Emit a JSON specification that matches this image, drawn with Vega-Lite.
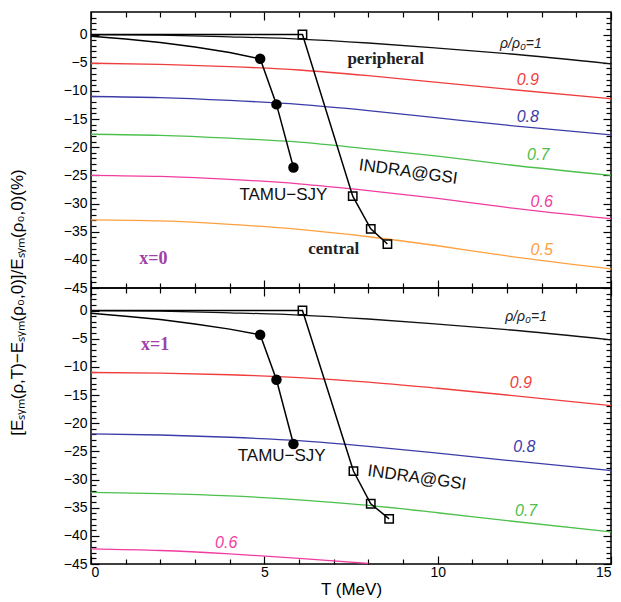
{
  "$schema": "https://vega.github.io/schema/vega-lite/v6.json",
  "background": "white",
  "padding": {"left": 7, "top": 10, "right": 6, "bottom": 2},
  "spacing": 0,
  "bounds": "flush",
  "config": {
    "view": {"stroke": "black", "strokeWidth": 1.5},
    "axis": {"labelFont": "Liberation Sans", "labelFontSize": 14, "labelColor": "black", "domainColor": "black", "domainWidth": 1.5, "tickColor": "black", "tickWidth": 1.2, "grid": false, "titleFont": "Liberation Sans", "titleFontWeight": "normal", "titleColor": "black"},
    "concat": {"spacing": 0}
  },
  "datasets": {
    "curves": [
      {"p": "x0", "rho": "1", "T": 0, "v": 0}, {"p": "x0", "rho": "1", "T": 2, "v": -0.1}, {"p": "x0", "rho": "1", "T": 4, "v": -0.4}, {"p": "x0", "rho": "1", "T": 6, "v": -0.8}, {"p": "x0", "rho": "1", "T": 8, "v": -1.5}, {"p": "x0", "rho": "1", "T": 10, "v": -2.4}, {"p": "x0", "rho": "1", "T": 12, "v": -3.4}, {"p": "x0", "rho": "1", "T": 15, "v": -5.2},
      {"p": "x0", "rho": "0.9", "T": 0, "v": -5.1}, {"p": "x0", "rho": "0.9", "T": 2, "v": -5.3}, {"p": "x0", "rho": "0.9", "T": 4, "v": -5.7}, {"p": "x0", "rho": "0.9", "T": 6, "v": -6.3}, {"p": "x0", "rho": "0.9", "T": 8, "v": -7.3}, {"p": "x0", "rho": "0.9", "T": 10, "v": -8.5}, {"p": "x0", "rho": "0.9", "T": 12, "v": -9.7}, {"p": "x0", "rho": "0.9", "T": 15, "v": -11.4},
      {"p": "x0", "rho": "0.8", "T": 0, "v": -11.0}, {"p": "x0", "rho": "0.8", "T": 2, "v": -11.2}, {"p": "x0", "rho": "0.8", "T": 4, "v": -11.7}, {"p": "x0", "rho": "0.8", "T": 6, "v": -12.4}, {"p": "x0", "rho": "0.8", "T": 8, "v": -13.5}, {"p": "x0", "rho": "0.8", "T": 10, "v": -14.8}, {"p": "x0", "rho": "0.8", "T": 12, "v": -16.1}, {"p": "x0", "rho": "0.8", "T": 15, "v": -17.8},
      {"p": "x0", "rho": "0.7", "T": 0, "v": -17.7}, {"p": "x0", "rho": "0.7", "T": 2, "v": -17.9}, {"p": "x0", "rho": "0.7", "T": 4, "v": -18.4}, {"p": "x0", "rho": "0.7", "T": 6, "v": -19.1}, {"p": "x0", "rho": "0.7", "T": 8, "v": -20.3}, {"p": "x0", "rho": "0.7", "T": 10, "v": -21.6}, {"p": "x0", "rho": "0.7", "T": 12, "v": -23.1}, {"p": "x0", "rho": "0.7", "T": 15, "v": -25.0},
      {"p": "x0", "rho": "0.6", "T": 0, "v": -25.0}, {"p": "x0", "rho": "0.6", "T": 2, "v": -25.2}, {"p": "x0", "rho": "0.6", "T": 4, "v": -25.7}, {"p": "x0", "rho": "0.6", "T": 6, "v": -26.5}, {"p": "x0", "rho": "0.6", "T": 8, "v": -27.7}, {"p": "x0", "rho": "0.6", "T": 10, "v": -29.1}, {"p": "x0", "rho": "0.6", "T": 12, "v": -30.7}, {"p": "x0", "rho": "0.6", "T": 15, "v": -32.7},
      {"p": "x0", "rho": "0.5", "T": 0, "v": -32.9}, {"p": "x0", "rho": "0.5", "T": 2, "v": -33.1}, {"p": "x0", "rho": "0.5", "T": 4, "v": -33.7}, {"p": "x0", "rho": "0.5", "T": 6, "v": -34.6}, {"p": "x0", "rho": "0.5", "T": 8, "v": -35.9}, {"p": "x0", "rho": "0.5", "T": 10, "v": -37.5}, {"p": "x0", "rho": "0.5", "T": 12, "v": -39.3}, {"p": "x0", "rho": "0.5", "T": 15, "v": -41.6},
      {"p": "x1", "rho": "1", "T": 0, "v": 0}, {"p": "x1", "rho": "1", "T": 2, "v": -0.1}, {"p": "x1", "rho": "1", "T": 4, "v": -0.4}, {"p": "x1", "rho": "1", "T": 6, "v": -0.8}, {"p": "x1", "rho": "1", "T": 8, "v": -1.5}, {"p": "x1", "rho": "1", "T": 10, "v": -2.4}, {"p": "x1", "rho": "1", "T": 12, "v": -3.4}, {"p": "x1", "rho": "1", "T": 15, "v": -5.2},
      {"p": "x1", "rho": "0.9", "T": 0, "v": -11.0}, {"p": "x1", "rho": "0.9", "T": 2, "v": -11.1}, {"p": "x1", "rho": "0.9", "T": 4, "v": -11.4}, {"p": "x1", "rho": "0.9", "T": 6, "v": -11.9}, {"p": "x1", "rho": "0.9", "T": 8, "v": -12.7}, {"p": "x1", "rho": "0.9", "T": 10, "v": -13.8}, {"p": "x1", "rho": "0.9", "T": 12, "v": -15.0}, {"p": "x1", "rho": "0.9", "T": 15, "v": -16.9},
      {"p": "x1", "rho": "0.8", "T": 0, "v": -21.9}, {"p": "x1", "rho": "0.8", "T": 2, "v": -22.1}, {"p": "x1", "rho": "0.8", "T": 4, "v": -22.5}, {"p": "x1", "rho": "0.8", "T": 6, "v": -23.1}, {"p": "x1", "rho": "0.8", "T": 8, "v": -24.1}, {"p": "x1", "rho": "0.8", "T": 10, "v": -25.3}, {"p": "x1", "rho": "0.8", "T": 12, "v": -26.6}, {"p": "x1", "rho": "0.8", "T": 15, "v": -28.4},
      {"p": "x1", "rho": "0.7", "T": 0, "v": -32.3}, {"p": "x1", "rho": "0.7", "T": 2, "v": -32.5}, {"p": "x1", "rho": "0.7", "T": 4, "v": -32.9}, {"p": "x1", "rho": "0.7", "T": 6, "v": -33.6}, {"p": "x1", "rho": "0.7", "T": 8, "v": -34.6}, {"p": "x1", "rho": "0.7", "T": 10, "v": -35.9}, {"p": "x1", "rho": "0.7", "T": 12, "v": -37.3}, {"p": "x1", "rho": "0.7", "T": 15, "v": -39.3},
      {"p": "x1", "rho": "0.6", "T": 0, "v": -42.3}, {"p": "x1", "rho": "0.6", "T": 2, "v": -42.6}, {"p": "x1", "rho": "0.6", "T": 4, "v": -43.2}, {"p": "x1", "rho": "0.6", "T": 6, "v": -44.0}, {"p": "x1", "rho": "0.6", "T": 8, "v": -44.9}
    ],
    "tamu": [
      {"p": "x0", "T": 0, "v": -0.3, "m": false}, {"p": "x0", "T": 1, "v": -0.8, "m": false}, {"p": "x0", "T": 2, "v": -1.4, "m": false}, {"p": "x0", "T": 3, "v": -2.2, "m": false}, {"p": "x0", "T": 4, "v": -3.2, "m": false},
      {"p": "x0", "T": 4.88, "v": -4.3, "m": true}, {"p": "x0", "T": 5.35, "v": -12.4, "m": true}, {"p": "x0", "T": 5.84, "v": -23.6, "m": true},
      {"p": "x1", "T": 0, "v": -0.5, "m": false}, {"p": "x1", "T": 1, "v": -1.0, "m": false}, {"p": "x1", "T": 2, "v": -1.6, "m": false}, {"p": "x1", "T": 3, "v": -2.4, "m": false}, {"p": "x1", "T": 4, "v": -3.3, "m": false},
      {"p": "x1", "T": 4.88, "v": -4.3, "m": true}, {"p": "x1", "T": 5.35, "v": -12.3, "m": true}, {"p": "x1", "T": 5.84, "v": -23.7, "m": true}
    ],
    "indra": [
      {"p": "x0", "T": 0, "v": 0, "m": false}, {"p": "x0", "T": 6.1, "v": 0, "m": true}, {"p": "x0", "T": 7.55, "v": -28.7, "m": true}, {"p": "x0", "T": 8.07, "v": -34.5, "m": true}, {"p": "x0", "T": 8.55, "v": -37.2, "m": true},
      {"p": "x1", "T": 0, "v": 0, "m": false}, {"p": "x1", "T": 6.1, "v": 0, "m": true}, {"p": "x1", "T": 7.57, "v": -28.5, "m": true}, {"p": "x1", "T": 8.07, "v": -34.3, "m": true}, {"p": "x1", "T": 8.6, "v": -37.0, "m": true}
    ],
    "labels": [
      {"p": "x0", "k": "rho1", "text": "ρ/ρ₀=1", "rho": "1", "T": 12.4, "v": -1.6},
      {"p": "x0", "k": "rho", "text": "0.9", "rho": "0.9", "T": 12.6, "v": -8.0},
      {"p": "x0", "k": "rho", "text": "0.8", "rho": "0.8", "T": 12.6, "v": -14.6},
      {"p": "x0", "k": "rho", "text": "0.7", "rho": "0.7", "T": 12.9, "v": -21.3},
      {"p": "x0", "k": "rho", "text": "0.6", "rho": "0.6", "T": 13.0, "v": -29.7},
      {"p": "x0", "k": "rho", "text": "0.5", "rho": "0.5", "T": 13.0, "v": -38.3},
      {"p": "x0", "k": "ser", "text": "peripheral", "rho": "1", "T": 8.5, "v": -4.3},
      {"p": "x0", "k": "ser", "text": "central", "rho": "1", "T": 7.0, "v": -38.1},
      {"p": "x0", "k": "xlab", "text": "x=0", "rho": "1", "T": 1.8, "v": -39.9},
      {"p": "x0", "k": "exp", "text": "TAMU−SJY", "rho": "1", "T": 5.55, "v": -28.5},
      {"p": "x0", "k": "indra", "text": "INDRA@GSI", "rho": "1", "T": 9.15, "v": -24.4},
      {"p": "x1", "k": "rho1", "text": "ρ/ρ₀=1", "rho": "1", "T": 12.55, "v": -1.1},
      {"p": "x1", "k": "rho", "text": "0.9", "rho": "0.9", "T": 12.4, "v": -12.8},
      {"p": "x1", "k": "rho", "text": "0.8", "rho": "0.8", "T": 12.5, "v": -24.2},
      {"p": "x1", "k": "rho", "text": "0.7", "rho": "0.7", "T": 12.55, "v": -35.6},
      {"p": "x1", "k": "rho", "text": "0.6", "rho": "0.6", "T": 3.9, "v": -41.3},
      {"p": "x1", "k": "xlab", "text": "x=1", "rho": "1", "T": 1.85, "v": -6.2},
      {"p": "x1", "k": "exp", "text": "TAMU−SJY", "rho": "1", "T": 5.5, "v": -25.8},
      {"p": "x1", "k": "indra", "text": "INDRA@GSI", "rho": "1", "T": 9.4, "v": -29.7}
    ]
  },
  "vconcat": [
    {
      "width": 520, "height": 276,
      "resolve": {"axis": {"x": "independent", "y": "independent"}},
      "layer": [
        {
          "data": {"name": "curves"},
          "transform": [{"filter": "datum.p === 'x0'"}],
          "mark": {"type": "line", "strokeWidth": 1.3, "clip": true, "interpolate": "monotone"},
          "encoding": {
            "x": {"field": "T", "type": "quantitative", "scale": {"domain": [0, 15], "nice": false},
              "axis": {"orient": "bottom", "values": [0,1,2,3,4,5,6,7,8,9,10,11,12,13,14,15], "labels": false, "title": null, "domain": false,
                "tickSize": {"condition": {"test": "datum.value % 5 === 0", "value": -8}, "value": -5}}},
            "y": {"field": "v", "type": "quantitative", "scale": {"domain": [-45, 4], "nice": false, "zero": false},
              "axis": {"orient": "left", "values": [-45,-44,-43,-42,-41,-40,-39,-38,-37,-36,-35,-34,-33,-32,-31,-30,-29,-28,-27,-26,-25,-24,-23,-22,-21,-20,-19,-18,-17,-16,-15,-14,-13,-12,-11,-10,-9,-8,-7,-6,-5,-4,-3,-2,-1,0,1,2,3],
                "labelExpr": "datum.value % 5 === 0 ? datum.label : ''", "labelPadding": 12, "domain": false,
                "tickSize": {"condition": {"test": "datum.value % 5 === 0", "value": -8}, "value": -5},
                "title": "[Eₛᵧₘ(ρ,T)−Eₛᵧₘ(ρ₀,0)]/Eₛᵧₘ(ρ₀,0)(%)", "titleFontSize": 17, "titleAngle": -90, "titleX": -65, "titleY": 290, "titleBaseline": "bottom", "titleAlign": "center"}},
            "color": {"field": "rho", "type": "nominal", "scale": {"domain": ["1", "0.9", "0.8", "0.7", "0.6", "0.5"], "range": ["#111111", "#f03c3c", "#3c3ca8", "#4cc04c", "#f03ca0", "#ffa040"]}, "legend": null}
          }
        },
        {
          "data": {"name": "tamu"},
          "transform": [{"filter": "datum.p === 'x0'"}],
          "mark": {"type": "line", "strokeWidth": 1.5, "color": "black"},
          "encoding": {
            "x": {"field": "T", "type": "quantitative", "scale": {"domain": [0, 15], "nice": false},
              "axis": {"orient": "top", "values": [0,1,2,3,4,5,6,7,8,9,10,11,12,13,14,15], "labels": false, "title": null, "domain": false,
                "tickSize": {"condition": {"test": "datum.value % 5 === 0", "value": -8}, "value": -5}}},
            "y": {"field": "v", "type": "quantitative", "scale": {"domain": [-45, 4], "nice": false, "zero": false},
              "axis": {"orient": "right", "values": [-45,-44,-43,-42,-41,-40,-39,-38,-37,-36,-35,-34,-33,-32,-31,-30,-29,-28,-27,-26,-25,-24,-23,-22,-21,-20,-19,-18,-17,-16,-15,-14,-13,-12,-11,-10,-9,-8,-7,-6,-5,-4,-3,-2,-1,0,1,2,3],
                "labels": false, "title": null, "domain": false,
                "tickSize": {"condition": {"test": "datum.value % 5 === 0", "value": -8}, "value": -5}}}
          }
        },
        {
          "data": {"name": "indra"},
          "transform": [{"filter": "datum.p === 'x0'"}],
          "mark": {"type": "line", "strokeWidth": 1.5, "color": "black"},
          "encoding": {
            "x": {"field": "T", "type": "quantitative", "axis": null},
            "y": {"field": "v", "type": "quantitative", "axis": null}
          }
        },
        {
          "data": {"name": "tamu"},
          "transform": [{"filter": "datum.p === 'x0' && datum.m"}],
          "mark": {"type": "point", "shape": "circle", "filled": true, "size": 110, "color": "black", "opacity": 1},
          "encoding": {
            "x": {"field": "T", "type": "quantitative", "axis": null},
            "y": {"field": "v", "type": "quantitative", "axis": null}
          }
        },
        {
          "data": {"name": "indra"},
          "transform": [{"filter": "datum.p === 'x0' && datum.m"}],
          "mark": {"type": "point", "shape": "square", "filled": false, "size": 70, "color": "black", "strokeWidth": 1.5, "opacity": 1},
          "encoding": {
            "x": {"field": "T", "type": "quantitative", "axis": null},
            "y": {"field": "v", "type": "quantitative", "axis": null}
          }
        },
        {
          "data": {"name": "labels"},
          "transform": [{"filter": "datum.p === 'x0' && datum.k === 'rho'"}],
          "mark": {"type": "text", "font": "Liberation Sans", "fontStyle": "italic", "fontSize": 16},
          "encoding": {
            "x": {"field": "T", "type": "quantitative", "axis": null},
            "y": {"field": "v", "type": "quantitative", "axis": null},
            "text": {"field": "text"},
            "color": {"field": "rho", "type": "nominal", "legend": null}
          }
        },
        {
          "data": {"name": "labels"},
          "transform": [{"filter": "datum.p === 'x0' && datum.k === 'rho1'"}],
          "mark": {"type": "text", "font": "Liberation Sans", "fontStyle": "italic", "fontSize": 14, "color": "#222222"},
          "encoding": {
            "x": {"field": "T", "type": "quantitative", "axis": null},
            "y": {"field": "v", "type": "quantitative", "axis": null},
            "text": {"field": "text"}
          }
        },
        {
          "data": {"name": "labels"},
          "transform": [{"filter": "datum.p === 'x0' && datum.k === 'ser'"}],
          "mark": {"type": "text", "font": "Liberation Serif", "fontWeight": "bold", "fontSize": 17, "color": "#222222"},
          "encoding": {
            "x": {"field": "T", "type": "quantitative", "axis": null},
            "y": {"field": "v", "type": "quantitative", "axis": null},
            "text": {"field": "text"}
          }
        },
        {
          "data": {"name": "labels"},
          "transform": [{"filter": "datum.p === 'x0' && datum.k === 'xlab'"}],
          "mark": {"type": "text", "font": "Liberation Serif", "fontWeight": "bold", "fontSize": 18, "color": "#a040a8"},
          "encoding": {
            "x": {"field": "T", "type": "quantitative", "axis": null},
            "y": {"field": "v", "type": "quantitative", "axis": null},
            "text": {"field": "text"}
          }
        },
        {
          "data": {"name": "labels"},
          "transform": [{"filter": "datum.p === 'x0' && datum.k === 'exp'"}],
          "mark": {"type": "text", "font": "Liberation Sans", "fontSize": 17, "color": "#111111"},
          "encoding": {
            "x": {"field": "T", "type": "quantitative", "axis": null},
            "y": {"field": "v", "type": "quantitative", "axis": null},
            "text": {"field": "text"}
          }
        },
        {
          "data": {"name": "labels"},
          "transform": [{"filter": "datum.p === 'x0' && datum.k === 'indra'"}],
          "mark": {"type": "text", "font": "Liberation Sans", "fontSize": 17, "angle": 8, "color": "#111111"},
          "encoding": {
            "x": {"field": "T", "type": "quantitative", "axis": null},
            "y": {"field": "v", "type": "quantitative", "axis": null},
            "text": {"field": "text"}
          }
        }
      ]
    },
    {
      "width": 520, "height": 276,
      "resolve": {"axis": {"x": "independent", "y": "independent"}},
      "layer": [
        {
          "data": {"name": "curves"},
          "transform": [{"filter": "datum.p === 'x1'"}],
          "mark": {"type": "line", "strokeWidth": 1.3, "clip": true, "interpolate": "monotone"},
          "encoding": {
            "x": {"field": "T", "type": "quantitative", "scale": {"domain": [0, 15], "nice": false},
              "axis": {"orient": "bottom", "values": [0,1,2,3,4,5,6,7,8,9,10,11,12,13,14,15], "labelExpr": "datum.value % 5 === 0 ? datum.label : ''", "labelPadding": 9, "domain": false,
                "tickSize": {"condition": {"test": "datum.value % 5 === 0", "value": -8}, "value": -5},
                "title": "T (MeV)", "titleFontSize": 17, "titlePadding": 2}},
            "y": {"field": "v", "type": "quantitative", "scale": {"domain": [-45, 4], "nice": false, "zero": false},
              "axis": {"orient": "left", "values": [-45,-44,-43,-42,-41,-40,-39,-38,-37,-36,-35,-34,-33,-32,-31,-30,-29,-28,-27,-26,-25,-24,-23,-22,-21,-20,-19,-18,-17,-16,-15,-14,-13,-12,-11,-10,-9,-8,-7,-6,-5,-4,-3,-2,-1,0,1,2,3],
                "labelExpr": "datum.value % 5 === 0 ? datum.label : ''", "labelPadding": 12, "domain": false,
                "tickSize": {"condition": {"test": "datum.value % 5 === 0", "value": -8}, "value": -5},
                "title": null}},
            "color": {"field": "rho", "type": "nominal", "scale": {"domain": ["1", "0.9", "0.8", "0.7", "0.6", "0.5"], "range": ["#111111", "#f03c3c", "#3c3ca8", "#4cc04c", "#f03ca0", "#ffa040"]}, "legend": null}
          }
        },
        {
          "data": {"name": "tamu"},
          "transform": [{"filter": "datum.p === 'x1'"}],
          "mark": {"type": "line", "strokeWidth": 1.5, "color": "black"},
          "encoding": {
            "x": {"field": "T", "type": "quantitative", "scale": {"domain": [0, 15], "nice": false},
              "axis": {"orient": "top", "values": [0,1,2,3,4,5,6,7,8,9,10,11,12,13,14,15], "labels": false, "title": null, "domain": false,
                "tickSize": {"condition": {"test": "datum.value % 5 === 0", "value": -8}, "value": -5}}},
            "y": {"field": "v", "type": "quantitative", "scale": {"domain": [-45, 4], "nice": false, "zero": false},
              "axis": {"orient": "right", "values": [-45,-44,-43,-42,-41,-40,-39,-38,-37,-36,-35,-34,-33,-32,-31,-30,-29,-28,-27,-26,-25,-24,-23,-22,-21,-20,-19,-18,-17,-16,-15,-14,-13,-12,-11,-10,-9,-8,-7,-6,-5,-4,-3,-2,-1,0,1,2,3],
                "labels": false, "title": null, "domain": false,
                "tickSize": {"condition": {"test": "datum.value % 5 === 0", "value": -8}, "value": -5}}}
          }
        },
        {
          "data": {"name": "indra"},
          "transform": [{"filter": "datum.p === 'x1'"}],
          "mark": {"type": "line", "strokeWidth": 1.5, "color": "black"},
          "encoding": {
            "x": {"field": "T", "type": "quantitative", "axis": null},
            "y": {"field": "v", "type": "quantitative", "axis": null}
          }
        },
        {
          "data": {"name": "tamu"},
          "transform": [{"filter": "datum.p === 'x1' && datum.m"}],
          "mark": {"type": "point", "shape": "circle", "filled": true, "size": 110, "color": "black", "opacity": 1},
          "encoding": {
            "x": {"field": "T", "type": "quantitative", "axis": null},
            "y": {"field": "v", "type": "quantitative", "axis": null}
          }
        },
        {
          "data": {"name": "indra"},
          "transform": [{"filter": "datum.p === 'x1' && datum.m"}],
          "mark": {"type": "point", "shape": "square", "filled": false, "size": 70, "color": "black", "strokeWidth": 1.5, "opacity": 1},
          "encoding": {
            "x": {"field": "T", "type": "quantitative", "axis": null},
            "y": {"field": "v", "type": "quantitative", "axis": null}
          }
        },
        {
          "data": {"name": "labels"},
          "transform": [{"filter": "datum.p === 'x1' && datum.k === 'rho'"}],
          "mark": {"type": "text", "font": "Liberation Sans", "fontStyle": "italic", "fontSize": 16},
          "encoding": {
            "x": {"field": "T", "type": "quantitative", "axis": null},
            "y": {"field": "v", "type": "quantitative", "axis": null},
            "text": {"field": "text"},
            "color": {"field": "rho", "type": "nominal", "legend": null}
          }
        },
        {
          "data": {"name": "labels"},
          "transform": [{"filter": "datum.p === 'x1' && datum.k === 'rho1'"}],
          "mark": {"type": "text", "font": "Liberation Sans", "fontStyle": "italic", "fontSize": 14, "color": "#222222"},
          "encoding": {
            "x": {"field": "T", "type": "quantitative", "axis": null},
            "y": {"field": "v", "type": "quantitative", "axis": null},
            "text": {"field": "text"}
          }
        },
        {
          "data": {"name": "labels"},
          "transform": [{"filter": "datum.p === 'x1' && datum.k === 'xlab'"}],
          "mark": {"type": "text", "font": "Liberation Serif", "fontWeight": "bold", "fontSize": 18, "color": "#a040a8"},
          "encoding": {
            "x": {"field": "T", "type": "quantitative", "axis": null},
            "y": {"field": "v", "type": "quantitative", "axis": null},
            "text": {"field": "text"}
          }
        },
        {
          "data": {"name": "labels"},
          "transform": [{"filter": "datum.p === 'x1' && datum.k === 'exp'"}],
          "mark": {"type": "text", "font": "Liberation Sans", "fontSize": 17, "color": "#111111"},
          "encoding": {
            "x": {"field": "T", "type": "quantitative", "axis": null},
            "y": {"field": "v", "type": "quantitative", "axis": null},
            "text": {"field": "text"}
          }
        },
        {
          "data": {"name": "labels"},
          "transform": [{"filter": "datum.p === 'x1' && datum.k === 'indra'"}],
          "mark": {"type": "text", "font": "Liberation Sans", "fontSize": 17, "angle": 8, "color": "#111111"},
          "encoding": {
            "x": {"field": "T", "type": "quantitative", "axis": null},
            "y": {"field": "v", "type": "quantitative", "axis": null},
            "text": {"field": "text"}
          }
        }
      ]
    }
  ]
}
